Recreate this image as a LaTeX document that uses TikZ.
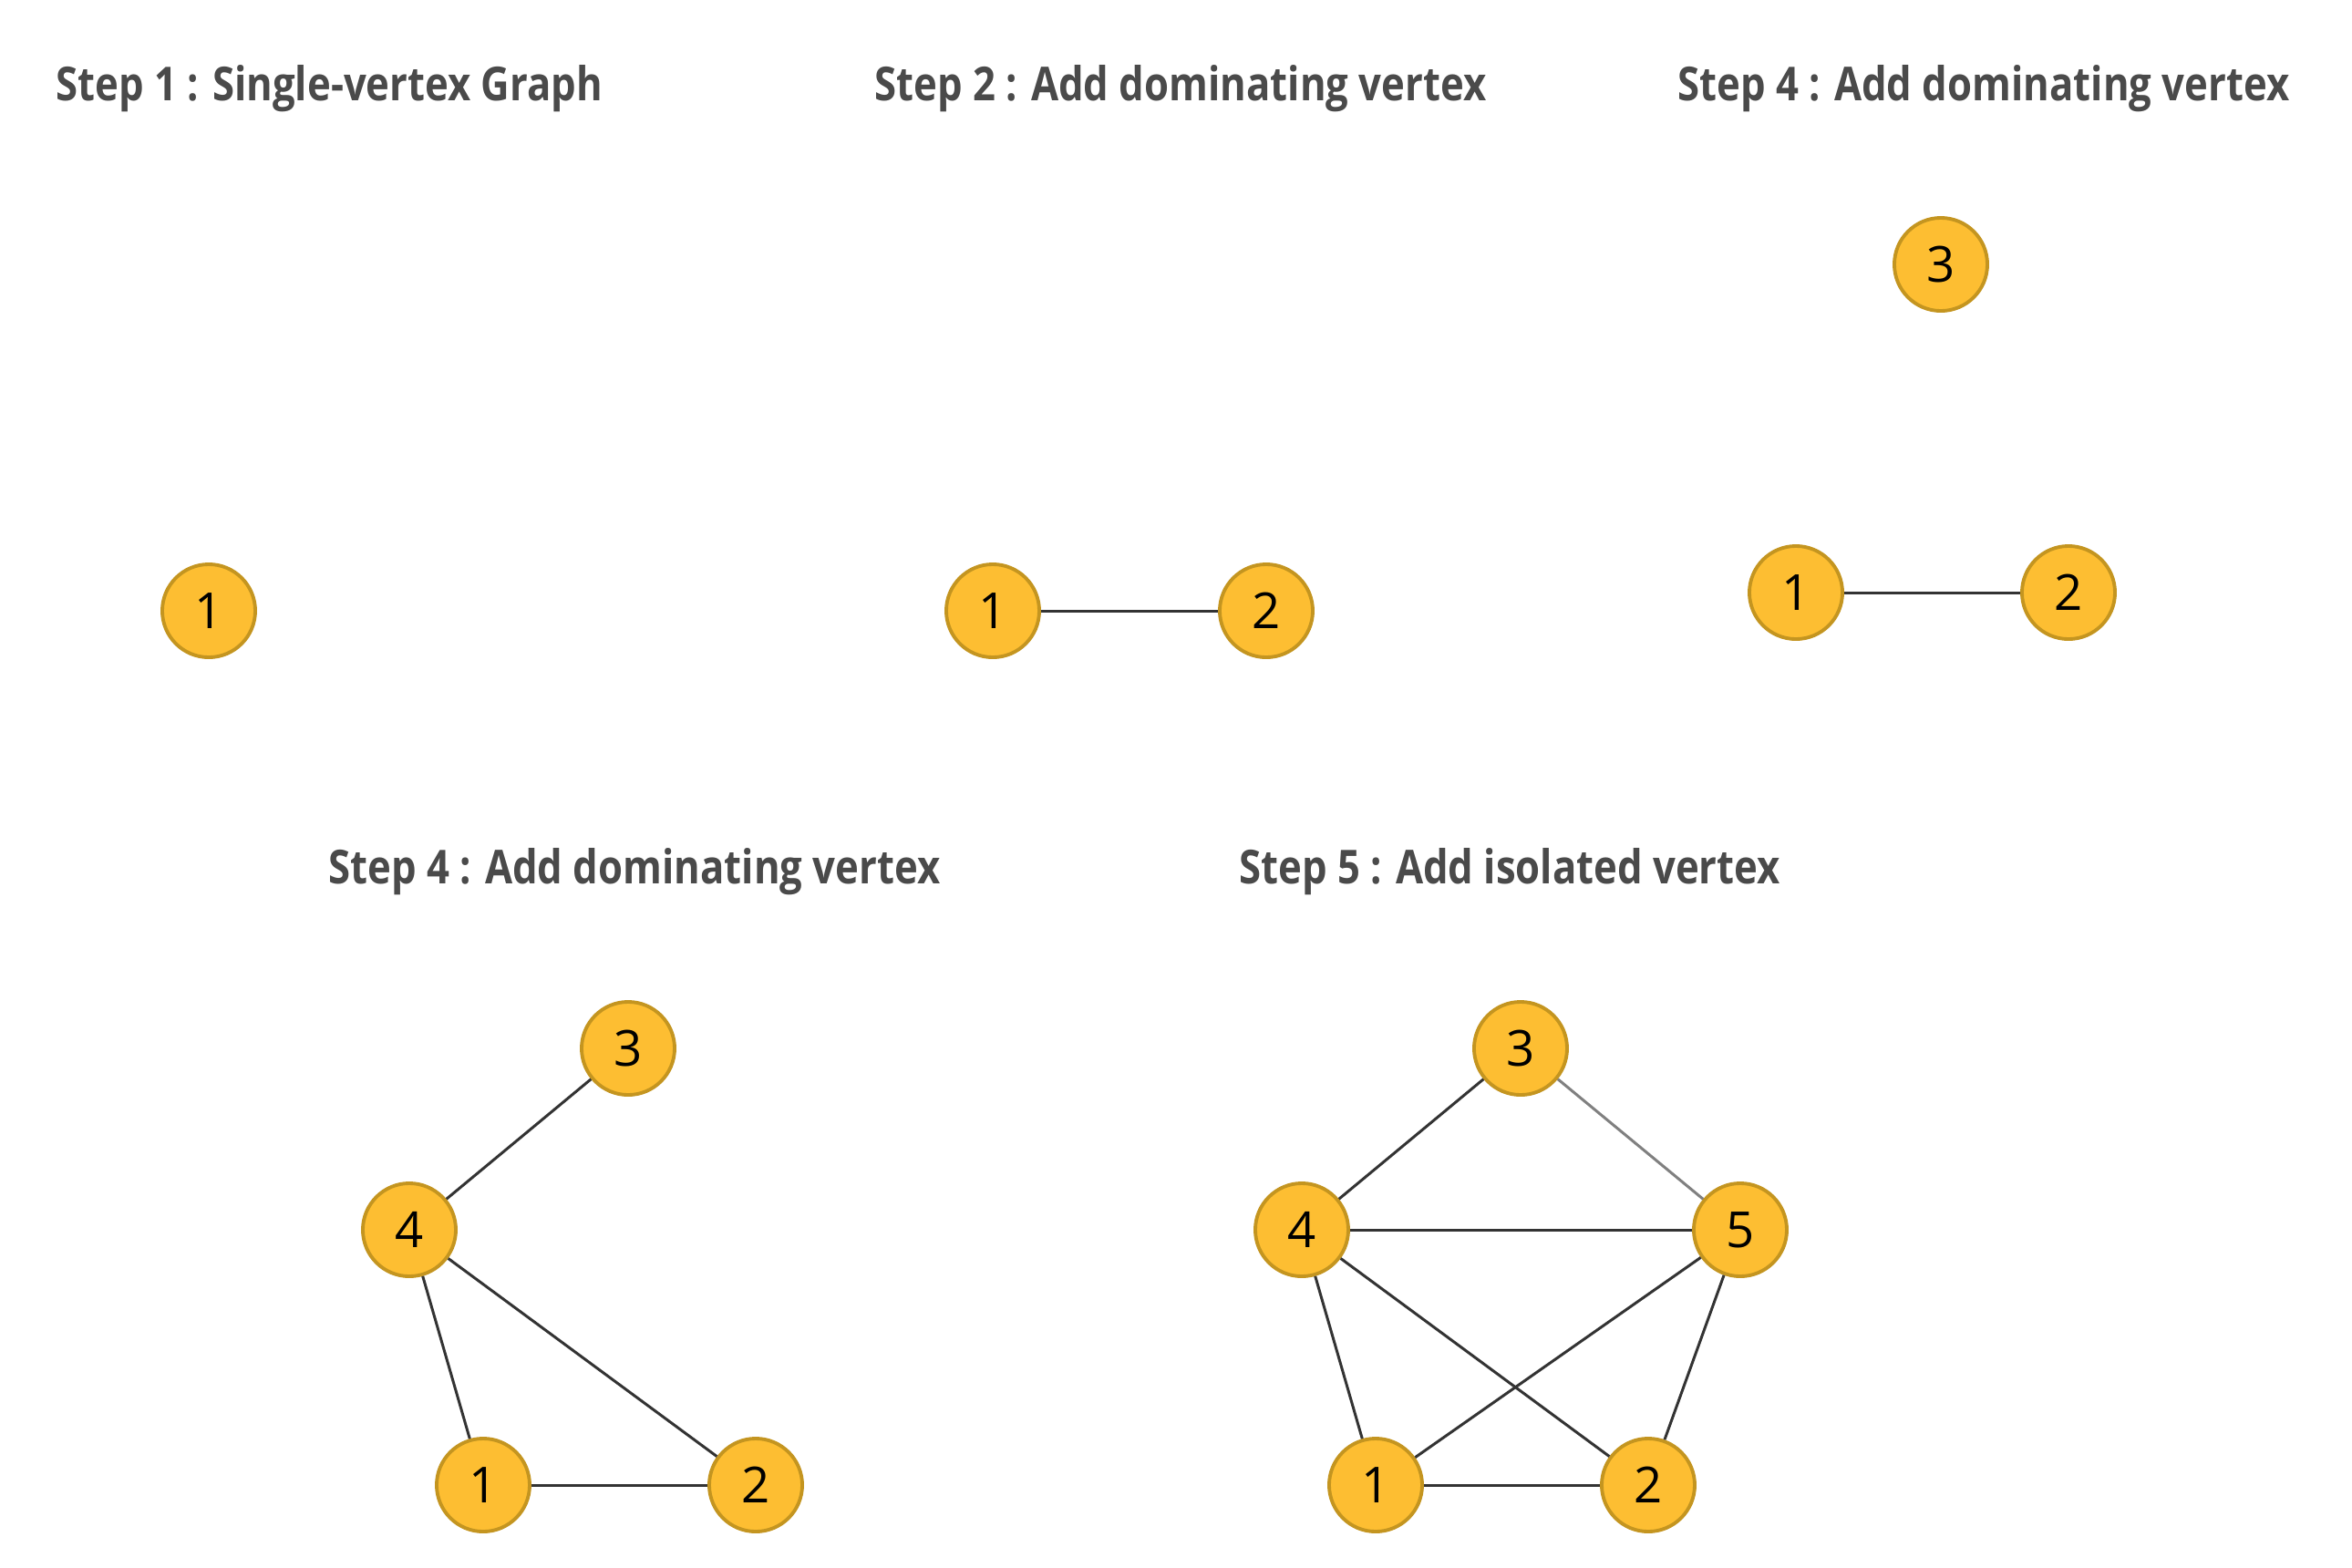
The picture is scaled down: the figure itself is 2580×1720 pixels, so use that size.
\documentclass[tikz,border=0pt]{standalone}
\usepackage{fontspec}
\setmainfont{Open Sans}
\newfontfamily\titlefont[FakeStretch=0.85]{Open Sans}
\usetikzlibrary{positioning}
\definecolor{vfill}{RGB}{253,190,50}
\definecolor{vborder}{RGB}{196,149,32}
\definecolor{edgecol}{RGB}{51,51,51}
\definecolor{titlecol}{RGB}{74,74,74}
\begin{document}
\begin{tikzpicture}[x=0.01cm,y=-0.01cm]
\tikzstyle{vertex} = [circle,draw=vborder,fill=vfill,line width=1.1pt,minimum size=1.02cm,inner sep=0pt,font=\fontsize{15.5}{18}\selectfont]
\tikzstyle{edge} = [draw=edgecol,line width=0.85pt]
\tikzstyle{title} = [anchor=base west,inner sep=0pt,text=titlecol,font=\titlefont\fontsize{14.6}{18}\selectfont\bfseries]
\useasboundingbox (0,0) rectangle (2580,1720);

%Titles of the five steps
 \node[title] (t1) at (61,110) {Step 1 : Single-vertex Graph};
 \node[title] (t2) at (959,110) {Step 2 : Add dominating vertex};
 \node[title] (t3) at (1840,110) {Step 4 : Add dominating vertex};
 \node[title] (t4) at (360,969) {Step 4 : Add dominating vertex};
 \node[title] (t5) at (1359,969) {Step 5 : Add isolated vertex};

%Step 1: one vertex
 \node[vertex] (a1) at (229,670) {1};

%Step 2: two vertices joined
 \node[vertex] (b1) at (1089,670) {1};
 \node[vertex] (b2) at (1389,670) {2};
 \draw[edge] (b1) -- (b2);

%Step 4 (top): add vertex 3 on its own
 \node[vertex] (c3) at (2129,290) {3};
 \node[vertex] (c1) at (1970,650) {1};
 \node[vertex] (c2) at (2269,650) {2};
 \draw[edge] (c1) -- (c2);

%Step 4 (bottom): vertex 4 joined to all others
 \node[vertex] (d3) at (689,1150) {3};
 \node[vertex] (d4) at (449,1349) {4};
 \node[vertex] (d1) at (530,1629) {1};
 \node[vertex] (d2) at (829,1629) {2};
 \draw[edge] (d1) -- (d2);
 \draw[edge] (d4) -- (d3);
 \draw[edge] (d4) -- (d1);
 \draw[edge] (d4) -- (d2);

%Step 5: vertex 5 added
 \node[vertex] (e3) at (1668,1150) {3};
 \node[vertex] (e4) at (1428,1349) {4};
 \node[vertex] (e5) at (1909,1349) {5};
 \node[vertex] (e1) at (1509,1629) {1};
 \node[vertex] (e2) at (1808,1629) {2};
 \draw[edge] (e1) -- (e2);
 \draw[edge] (e4) -- (e3);
 \draw[edge] (e4) -- (e1);
 \draw[edge] (e4) -- (e2);
 \draw[edge] (e4) -- (e5);
 \draw[edge] (e5) -- (e1);
 \draw[edge] (e5) -- (e2);
 \draw[edge,draw=gray] (e3) -- (e5);

\end{tikzpicture}
\end{document}
